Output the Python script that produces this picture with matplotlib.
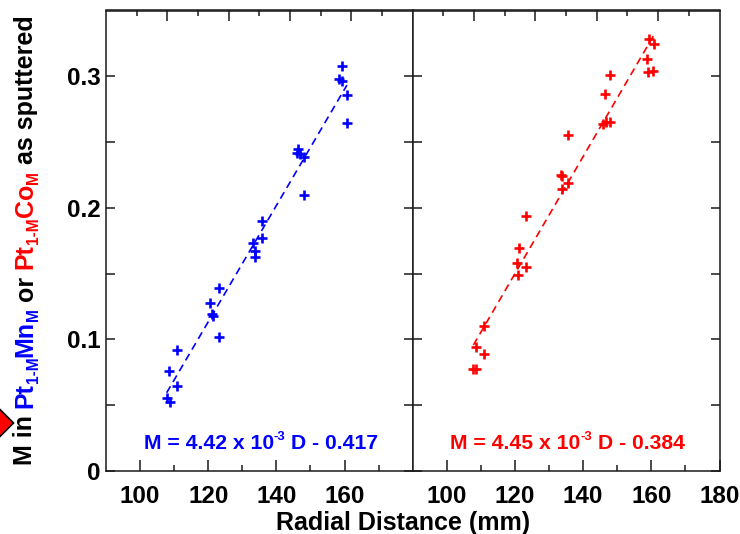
import matplotlib
matplotlib.use("Agg")
import matplotlib.pyplot as plt
from matplotlib.font_manager import FontProperties
from matplotlib.transforms import IdentityTransform
from matplotlib.patches import Polygon
import numpy as np

FONT = "Liberation Sans"
plt.rcParams['font.family'] = [FONT, 'DejaVu Sans']

# ---------------- data ----------------
mn_D = [159.4, 158.5, 159.2, 160.7, 160.7, 146.4, 146.0, 146.9, 148.2, 148.2,
        135.7, 135.7, 133.2, 133.7, 133.7, 123.2, 120.5, 121.2, 121.5, 123.3,
        110.9, 108.6, 110.9, 107.8, 108.8]
mn_M = [0.308, 0.298, 0.2967, 0.2857, 0.2644, 0.245, 0.2417, 0.241, 0.239, 0.2094,
        0.1903, 0.1768, 0.1733, 0.1674, 0.1623, 0.1394, 0.1275, 0.1191, 0.1178, 0.102,
        0.0918, 0.0758, 0.0644, 0.0555, 0.0522]
co_D = [159.3, 160.7, 158.6, 159.1, 160.6, 148.0, 146.4, 145.8, 146.6, 148.0,
        135.7, 133.4, 133.7, 135.7, 133.7, 123.2, 121.2, 120.5, 123.2, 121.0,
        110.8, 108.5, 110.8, 107.8, 108.5]
co_M = [0.3285, 0.3247, 0.3132, 0.303, 0.304, 0.301, 0.2863, 0.2639, 0.2654, 0.2649,
        0.2552, 0.2247, 0.2242, 0.2191, 0.2145, 0.1941, 0.1695, 0.1578, 0.1552, 0.1491,
        0.1102, 0.0944, 0.0891, 0.0776, 0.0776]
mn_fit = (4.42e-3, -0.417)
co_fit = (4.45e-3, -0.384)
mn_eq = ["M = 4.42 x 10", "-3", " D - 0.417"]
co_eq = ["M = 4.45 x 10", "-3", " D - 0.384"]

x_major_left = [100, 120, 140, 160]
x_major_right = [100, 120, 140, 160, 180]
x_minor = [110, 130, 150, 170]
top_major = [108, 126, 144, 162]
top_minor = [99, 117, 135, 153, 171]
y_major = [0, 0.1, 0.2, 0.3]
y_major_labels = ["0", "0.1", "0.2", "0.3"]
y_minor = [0.05, 0.15, 0.25]
x_label = "Radial Distance (mm)"

BLUE = "#0000FF"
RED = "#FF0000"
INK = "#1a1a1a"

W, H = 740, 534
fig = plt.figure(figsize=(W / 100, H / 100), dpi=100)
fig.patch.set_facecolor("white")

ax_l = fig.add_axes([106 / W, 63 / H, 306.7 / W, 460.5 / H])
ax_r = fig.add_axes([412.7 / W, 63 / H, 306.8 / W, 460.5 / H])

TICK_FS = 17.5


def style(ax, xmaj, show_y):
    ax.set_xlim(90, 180)
    ax.set_ylim(0, 0.35)
    ax.set_xticks(xmaj, [f"{v:g}" for v in xmaj])
    ax.set_xticks(x_minor, minor=True)
    ax.set_yticks(y_major, y_major_labels if show_y else [])
    ax.set_yticks(y_minor, minor=True)
    for sp in ax.spines.values():
        sp.set_linewidth(1.1)
        sp.set_color(INK)
    ax.tick_params(axis="x", which="both", direction="in", top=False, bottom=True,
                   width=1.1, color=INK, labelsize=TICK_FS, pad=10)
    ax.tick_params(axis="x", which="major", length=8)
    ax.tick_params(axis="x", which="minor", length=4.5)
    ax.tick_params(axis="y", which="both", direction="in", left=True, right=True,
                   width=1.1, color=INK, labelsize=TICK_FS, pad=4, length=6.5,
                   labelleft=show_y)
    for lab in ax.get_xticklabels() + ax.get_yticklabels():
        lab.set_fontweight("bold")
    sec = ax.secondary_xaxis("top")
    sec.set_xticks(top_major)
    sec.set_xticks(top_minor, minor=True)
    sec.tick_params(which="both", direction="in", labeltop=False, width=1.1, color=INK)
    sec.tick_params(which="major", length=8)
    sec.tick_params(which="minor", length=4.5)
    sec.spines["top"].set_linewidth(1.1)
    sec.spines["top"].set_color(INK)


style(ax_l, x_major_left, True)
style(ax_r, x_major_right, False)


def panel(ax, D, M, fit, color):
    xs = np.array([min(D), max(D)])
    ax.plot(xs, fit[0] * xs + fit[1], color=color, lw=1.2, dashes=(4.5, 3), zorder=2)
    ax.plot(D, M, linestyle="none", marker="+", ms=7, mew=1.9, color=color, zorder=3)


panel(ax_l, mn_D, mn_M, mn_fit, BLUE)
panel(ax_r, co_D, co_M, co_fit, RED)

fig.canvas.draw()
renderer = fig.canvas.get_renderer()


def advance(s, fp):
    w1 = renderer.get_text_width_height_descent(s + "|", fp, ismath=False)[0]
    w0 = renderer.get_text_width_height_descent("|", fp, ismath=False)[0]
    return w1 - w0


def layout(segs, size):
    items = []
    for text, color, kind in segs:
        s = size * 0.62 if kind != "n" else size
        fp = FontProperties(family=FONT, weight="bold", size=s)
        stripped = text.lstrip(" ")
        nlead = len(text) - len(stripped)
        gap = advance(" " * nlead, fp) if nlead else 0.0
        items.append((stripped, color, kind, fp, gap, advance(stripped, fp)))
    total = sum(i[4] + i[5] for i in items)
    return items, total


def draw(items, x0, y0, size, angle):
    th = np.deg2rad(angle)
    d = np.array([np.cos(th), np.sin(th)])
    up = np.array([-np.sin(th), np.cos(th)])
    pos = np.array([x0, y0], dtype=float)
    px = size * 100 / 72
    for text, color, kind, fp, gap, adv in items:
        pos = pos + d * gap
        off = np.zeros(2)
        if kind == "sub":
            off = -up * 0.22 * px
        elif kind == "sup":
            off = up * 0.42 * px
        p = pos + off
        fig.text(p[0], p[1], text, transform=IdentityTransform(), rotation=angle,
                 rotation_mode="anchor", ha="left", va="baseline",
                 fontproperties=fp, color=color)
        pos = pos + d * adv


# y label (multi-coloured)
ylab = [("M in ", "black", "n"), ("Pt", BLUE, "n"), ("1-M", BLUE, "sub"), ("Mn", BLUE, "n"),
        ("M", BLUE, "sub"), (" or ", "black", "n"), ("Pt", RED, "n"),
        ("1-M", RED, "sub"), ("Co", RED, "n"), ("M", RED, "sub"),
        (" as sputtered", "black", "n")]
# trailing spaces are moved to the start of the next segment
fixed = []
carry = ""
for t, c, k in ylab:
    t2 = carry + t
    stripped = t2.rstrip(" ")
    carry = " " * (len(t2) - len(stripped))
    fixed.append((stripped, c, k))
YS = 18
items, total = layout(fixed, YS)
draw(items, 32.5, 69, YS, 90)

# equations
EQ = 15.2
for ax, eq, color in [(ax_l, mn_eq, BLUE), (ax_r, co_eq, RED)]:
    segs = [(eq[0], color, "n"), (eq[1], color, "sup"), (eq[2], color, "n")]
    items, total = layout(segs, EQ)
    cx, cy = ax.transData.transform((135.5, 0.017))
    draw(items, cx - total / 2, cy, EQ, 0)

# x label
fig.text(403.5, 4, x_label, transform=IdentityTransform(), ha="center",
         va="baseline", fontsize=18, fontweight="bold", color="black")

# red diamond marker at left edge
poly = Polygon([(13.5, 111), (-1, 125.5), (-15.5, 111), (-1, 96.5)], closed=True,
               transform=IdentityTransform(), facecolor=RED, edgecolor="black", lw=1.2)
fig.add_artist(poly)

fig.savefig("out.png", dpi=100, facecolor="white")
